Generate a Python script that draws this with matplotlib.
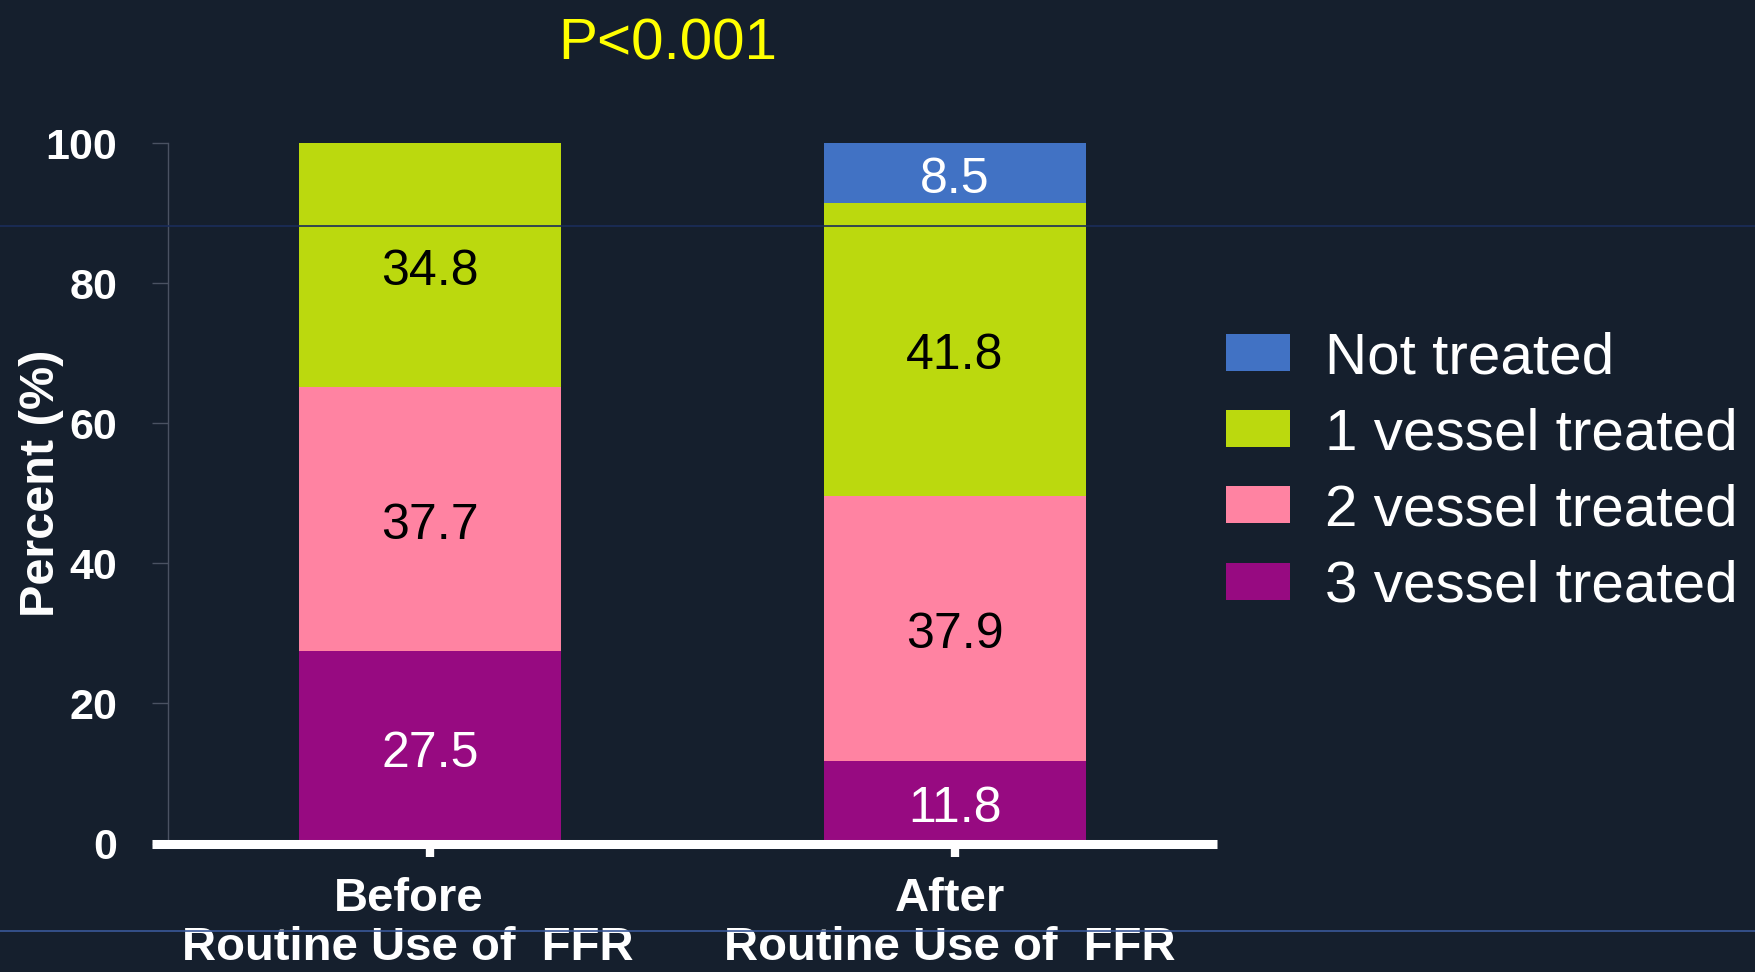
import matplotlib
matplotlib.use('Agg')
import matplotlib.pyplot as plt
from matplotlib.patches import Patch
from matplotlib.lines import Line2D
from matplotlib.transforms import ScaledTranslation, blended_transform_factory
import numpy as np

# data
categories = ['Before', 'After']
category_sub = 'Routine Use of  FFR'
series_names = ['3 vessel treated', '2 vessel treated', '1 vessel treated', 'Not treated']
three_vessel = [27.5, 11.8]
two_vessel = [37.7, 37.9]
one_vessel = [34.8, 41.8]
not_treated = [0.0, 8.5]
p_value_text = 'P<0.001'

colors = ['#970a81', '#ff83a2', '#bbd90e', '#4172c4']
label_colors = ['white', 'black', 'black', 'white']
bg = '#151f2d'

plt.rcParams['font.family'] = ['Liberation Sans', 'DejaVu Sans']

fig = plt.figure(figsize=(17.56, 9.72), dpi=100, facecolor=bg)
ax = fig.add_axes([0.0957, 0.1322, 0.5973, 0.7202])
ax.set_facecolor(bg)

# value labels sit a touch below the segment centre, like on the slide
lab_shift = ScaledTranslation(0, -5 / 72, fig.dpi_scale_trans)

x = np.arange(len(categories))
bottom = np.zeros(len(categories))
for vals, col, lcol in zip([three_vessel, two_vessel, one_vessel, not_treated], colors, label_colors):
    vals = np.array(vals)
    ax.bar(x, vals, width=0.5, bottom=bottom, color=col, zorder=2)
    for xi, v, b in zip(x, vals, bottom):
        if v > 0:
            ax.text(xi, b + v / 2, f'{v:.1f}', ha='center', va='center',
                    fontsize=36, color=lcol, zorder=3,
                    transform=ax.transData + lab_shift)
    bottom = bottom + vals

ax.set_xlim(-0.5, 1.5)
ax.set_ylim(0, 100)
ax.set_yticks([0, 20, 40, 60, 80, 100])
ax.set_xticks(x)
ax.set_xticklabels([])
for lab in ax.get_yticklabels():
    lab.set_fontsize(31)
    lab.set_fontweight('bold')
    lab.set_color('white')

# category labels: two lines, x in data, y in figure coords
# (the slide puts them a little left of the tick marks)
cat_trans = blended_transform_factory(ax.transData, fig.transFigure)
x_shift = [-0.22, -0.05]
for xi, name, dx in zip(x, categories, x_shift):
    tr = cat_trans + ScaledTranslation(dx, 0, fig.dpi_scale_trans)
    ax.text(xi, 0.063, name, ha='center', va='baseline', fontsize=34,
            fontweight='bold', color='white', transform=tr, clip_on=False)
    ax.text(xi, 0.012, category_sub, ha='center', va='baseline', fontsize=34,
            fontweight='bold', color='white', transform=tr, clip_on=False)

ax.tick_params(axis='y', length=11.5, width=1, color='#4a5262', pad=25)
ax.tick_params(axis='x', length=9, width=6, color='white')

for s in ['top', 'right']:
    ax.spines[s].set_visible(False)
ax.spines['left'].set_color('#4a5262')
ax.spines['left'].set_linewidth(1)
ax.spines['bottom'].set_color('white')
ax.spines['bottom'].set_linewidth(6.5)
ax.spines['bottom'].set_capstyle('butt')
ax.spines['bottom'].set_bounds(-0.53, 1.5)
ax.spines['bottom'].set_zorder(4)

ax.set_ylabel('Percent (%)', fontsize=35, fontweight='bold', color='white')
ax.yaxis.set_label_coords(-0.099, 0.515)

# p value on top
fig.text(0.380, 0.954, p_value_text, ha='center', va='center', fontsize=42, color='#ffff00')

# legend
handles = [Patch(facecolor=c) for c in colors[::-1]]
leg = fig.legend(handles, series_names[::-1], loc='center left',
                 bbox_to_anchor=(0.698, 0.514), frameon=False,
                 fontsize=42, labelcolor='white', borderpad=0, borderaxespad=0,
                 handlelength=1.1, handleheight=0.6, handletextpad=0.6,
                 labelspacing=0.38)

# faint slide rules
fig.add_artist(Line2D([0, 1], [0.7675, 0.7675], transform=fig.transFigure,
                      color='#1b2d5a', lw=1.2, zorder=5))
fig.add_artist(Line2D([0, 1], [0.0422, 0.0422], transform=fig.transFigure,
                      color='#3a5898', lw=1.2, zorder=5))

fig.savefig('out.png', dpi=100, facecolor=bg)
